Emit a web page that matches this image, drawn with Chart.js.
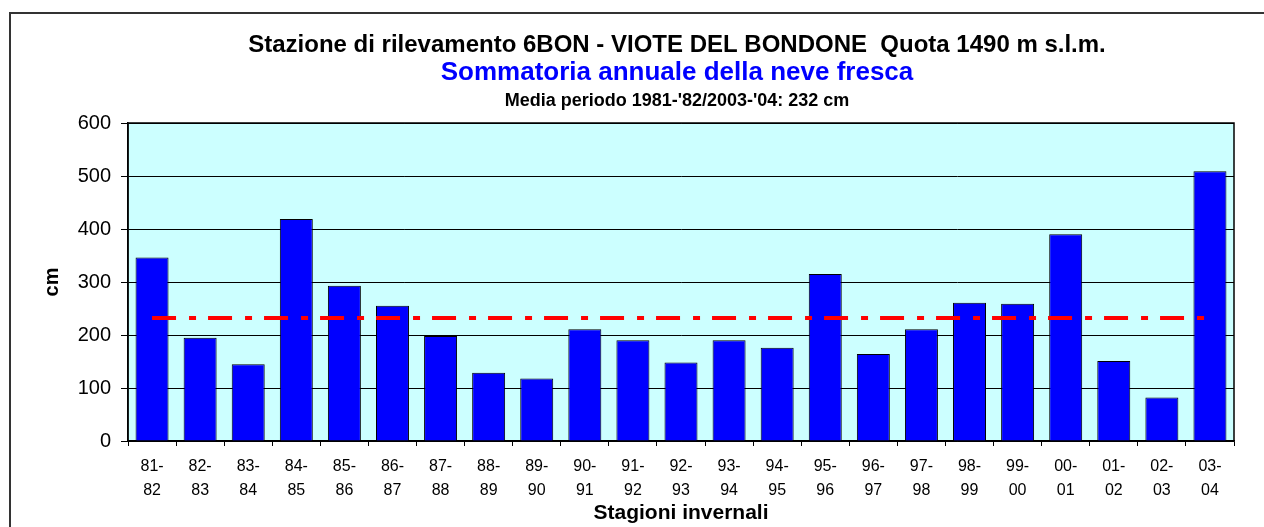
<!DOCTYPE html>
<html>
<head>
<meta charset="utf-8">
<script src="https://cdn.jsdelivr.net/npm/chart.js@4.4.1/dist/chart.umd.min.js"></script>
<style>
  html, body { margin: 0; padding: 0; background: #fff; }
</style>
</head>
<body>
<canvas id="snowChart" width="1264" height="527"></canvas>
<script>
// stagioni invernali (two-line tick labels)
const seasons = [
  ['81-', '82'], ['82-', '83'], ['83-', '84'], ['84-', '85'], ['85-', '86'], ['86-', '87'],
  ['87-', '88'], ['88-', '89'], ['89-', '90'], ['90-', '91'], ['91-', '92'], ['92-', '93'],
  ['93-', '94'], ['94-', '95'], ['95-', '96'], ['96-', '97'], ['97-', '98'], ['98-', '99'],
  ['99-', '00'], ['00-', '01'], ['01-', '02'], ['02-', '03'], ['03-', '04']
];
// sommatoria neve fresca (cm)
const snowCm = [346, 195, 145, 419, 293, 255, 198, 129, 118, 211, 190, 148,
                190, 176, 315, 164, 211, 261, 259, 390, 151, 82, 509];
const meanCm = 232;
const yMin = 0, yMax = 600, yStep = 100;

const titleLines = [
  { text: 'Stazione di rilevamento 6BON - VIOTE DEL BONDONE  Quota 1490 m s.l.m.', color: '#000000', size: 24, y: 45 },
  { text: 'Sommatoria annuale della neve fresca', color: '#0000FF', size: 26, y: 73 },
  { text: "Media periodo 1981-'82/2003-'04: 232 cm", color: '#000000', size: 18, y: 101 }
];

const FONT = '"Liberation Sans", Arial, sans-serif';

// plot background, outer frame and headings
const decor = {
  id: 'decor',
  beforeDraw(chart) {
    const { ctx, chartArea: a } = chart;
    ctx.save();
    ctx.fillStyle = '#CCFFFF';
    ctx.fillRect(a.left, a.top, a.right - a.left, a.bottom - a.top);
    ctx.strokeStyle = '#333';
    ctx.lineWidth = 2;
    ctx.strokeRect(10, 13, 1300, 600);
    ctx.restore();
  },
  beforeDatasetsDraw(chart) {
    const { ctx, chartArea: a } = chart;
    ctx.save();
    ctx.strokeStyle = '#000';
    ctx.lineWidth = 1.5;
    ctx.strokeRect(a.left, a.top, a.right - a.left, a.bottom - a.top);
    ctx.restore();
  },
  afterDraw(chart) {
    const { ctx, chartArea: a } = chart;
    const cx = (a.left + a.right) / 2 - 4;
    ctx.save();
    ctx.textAlign = 'center';
    ctx.textBaseline = 'middle';
    titleLines.forEach(l => {
      ctx.font = 'bold ' + l.size + 'px ' + FONT;
      ctx.fillStyle = l.color;
      ctx.fillText(l.text, cx, l.y);
    });
    ctx.restore();
  }
};

const ctx = document.getElementById('snowChart').getContext('2d');

const chart = new Chart(ctx, {
  data: {
    labels: seasons,
    datasets: [{
      type: 'line',
      label: 'Media',
      data: seasons.map(() => meanCm),
      borderColor: '#FF0000',
      borderWidth: 4,
      borderDash: [24, 13, 7, 12],
      pointRadius: 0,
      fill: false,
      order: 0
    },
    {
      type: 'bar',
      label: 'Neve fresca',
      data: snowCm,
      backgroundColor: '#0000FF',
      borderColor: '#000000',
      borderWidth: 1,
      categoryPercentage: 1,
      barPercentage: 0.686,
      order: 1
    }]
  },
  options: {
    responsive: false,
    animation: false,
    devicePixelRatio: 1,
    layout: { padding: { top: 123, right: 30, bottom: 0, left: 0 } },
    plugins: {
      legend: { display: false },
      tooltip: { enabled: false }
    },
    scales: {
      x: {
        offset: true,
        grid: { drawOnChartArea: false, drawTicks: true, tickLength: 5, color: '#000', offset: true },
        border: { display: true, color: '#000', width: 1.5 },
        ticks: {
          color: '#000', padding: 9, maxRotation: 0, autoSkip: false,
          font: { family: FONT, size: 16, lineHeight: 1.5 }
        },
        title: {
          display: true, text: 'Stagioni invernali', color: '#000',
          font: { family: FONT, size: 21, weight: 'bold' },
          padding: { top: 0, bottom: 1 }
        },
        afterFit(scale) { scale.height = 86; }
      },
      y: {
        min: yMin, max: yMax,
        grid: { color: '#000', lineWidth: 1, tickLength: 7 },
        border: { display: true, color: '#000', width: 1.5 },
        ticks: {
          stepSize: yStep, color: '#000', padding: 10,
          font: { family: FONT, size: 20 }
        },
        title: {
          display: true, text: 'cm', color: '#000',
          font: { family: FONT, size: 20, weight: 'bold' },
          padding: { top: 40, bottom: 0 }
        },
        afterFit(scale) { scale.width = 128; }
      }
    }
  },
  plugins: [decor]
});
</script>
</body>
</html>
